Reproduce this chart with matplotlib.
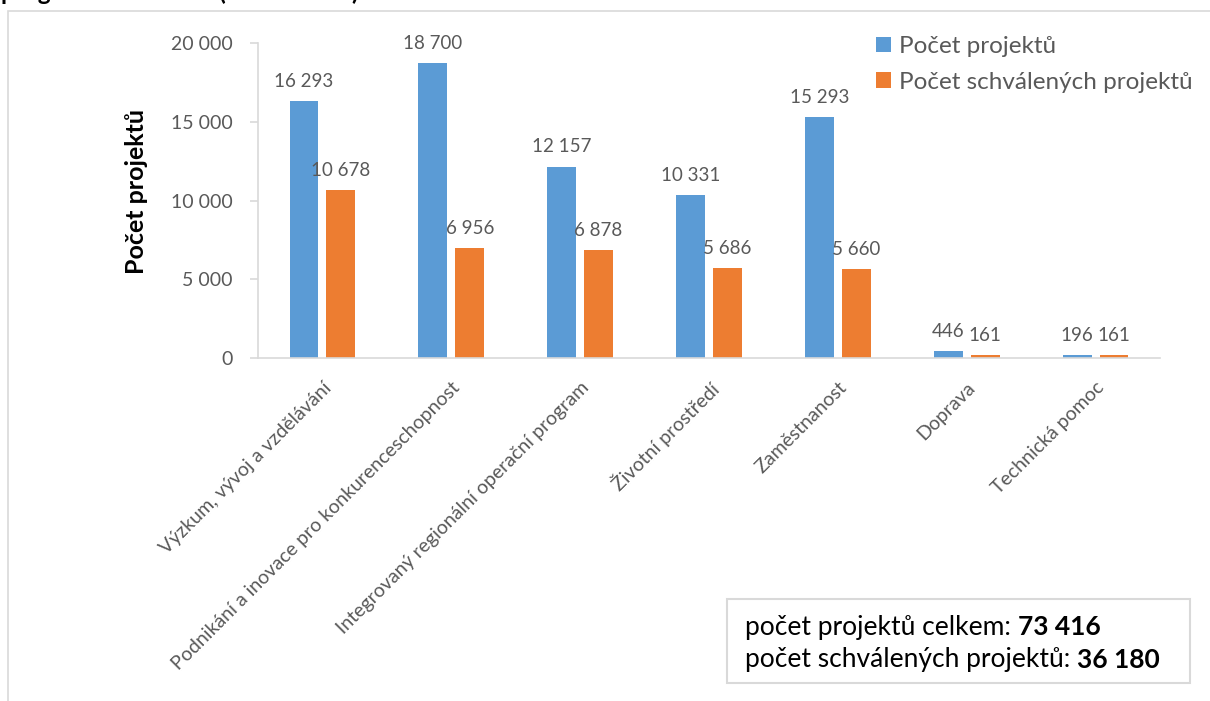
import matplotlib.pyplot as plt
from matplotlib.patches import Rectangle
import numpy as np

plt.rcParams['font.family'] = ['Lato', 'DejaVu Sans']

categories = ["Výzkum, vývoj a vzdělávání",
              "Podnikání a inovace pro konkurenceschopnost",
              "Integrovaný regionální operační program",
              "Životní prostředí",
              "Zaměstnanost",
              "Doprava",
              "Technická pomoc"]
projects = [16293, 18700, 12157, 10331, 15293, 446, 196]
approved = [10678, 6956, 6878, 5686, 5660, 161, 161]
series_names = ["Počet projektů", "Počet schválených projektů"]
total_projects = "73 416"
total_approved = "36 180"

BLUE = "#5B9BD5"
ORANGE = "#ED7D31"
GRAY = "#595959"
LINE = "#D9D9D9"

def fmt(v):
    return f"{v:,}".replace(",", " ")

W, H = 1210, 701
fig = plt.figure(figsize=(W / 100, H / 100), dpi=100)
ax = fig.add_axes([258/W, 1 - 358/H, 902/W, 315/H])

x = np.arange(len(categories))
w = 0.225
b1 = ax.bar(x - 0.143, projects, w, color=BLUE, label=series_names[0])
b2 = ax.bar(x + 0.143, approved, w, color=ORANGE, label=series_names[1])

for bars, vals in ((b1, projects), (b2, approved)):
    for r, v in zip(bars, vals):
        ax.annotate(fmt(v), (r.get_x() + r.get_width() / 2, v),
                    xytext=(0, 8), textcoords='offset points',
                    ha='center', va='bottom', fontsize=13.5, color=GRAY)

ax.set_xlim(-0.5, len(categories) - 0.5)
ax.set_ylim(0, 20000)
yt = list(range(0, 20001, 5000))
ax.set_yticks(yt)
ax.set_yticklabels([fmt(v) for v in yt], fontsize=14, color=GRAY)
ax.set_xticks(x)
ax.set_xticklabels(categories, rotation=45, ha='right', rotation_mode='anchor',
                   fontsize=14, color=GRAY)
ax.tick_params(axis='x', length=0, pad=15)
ax.tick_params(axis='y', length=6, color=LINE, width=1.2, pad=12)

for s in ('top', 'right'):
    ax.spines[s].set_visible(False)
for s in ('left', 'bottom'):
    ax.spines[s].set_color(LINE)
    ax.spines[s].set_linewidth(1.2)

fig.text(137/W, 1 - 191/H, "Počet projektů", rotation=90, fontsize=18,
         fontweight='bold', color='black', ha='center', va='center')

leg = ax.legend(loc='upper left', bbox_to_anchor=(864/W, 1 - 24/H),
                bbox_transform=fig.transFigure, frameon=False, fontsize=17.5,
                handlelength=0.6, handleheight=0.6, handletextpad=0.35,
                labelspacing=0.6, borderpad=0)
for t in leg.get_texts():
    t.set_color(GRAY)

# outer chart frame
fig.patches.append(Rectangle((8/W, -0.05), 1.1, 1 - 11/H + 0.05,
                             transform=fig.transFigure, fill=False,
                             edgecolor=LINE, linewidth=1.2))

# heading above the chart, cut off by the image edge
fig.text(1/W, 1.0, "programové období (2014–2020)", fontsize=17.5,
         fontweight='bold', color='black', ha='left', va='baseline')

# summary box
fig.patches.append(Rectangle((727/W, 1 - 683/H), 463/W, 84/H,
                             transform=fig.transFigure, fill=False,
                             edgecolor=LINE, linewidth=1.5))
box_lines = []
for row, lab in ((627, "počet projektů celkem: "), (660, "počet schválených projektů: ")):
    box_lines.append(fig.text(745/W, 1 - row/H, lab, fontsize=19,
                              color='black', ha='left', va='center'))

fig.canvas.draw()
r = fig.canvas.get_renderer()
for t, val in zip(box_lines, (total_projects, total_approved)):
    bb = t.get_window_extent(r)
    fig.text(bb.x1 / fig.bbox.width, t.get_position()[1], val, fontsize=19,
             fontweight='bold', color='black', ha='left', va='center')

fig.savefig("out.png", dpi=100)
